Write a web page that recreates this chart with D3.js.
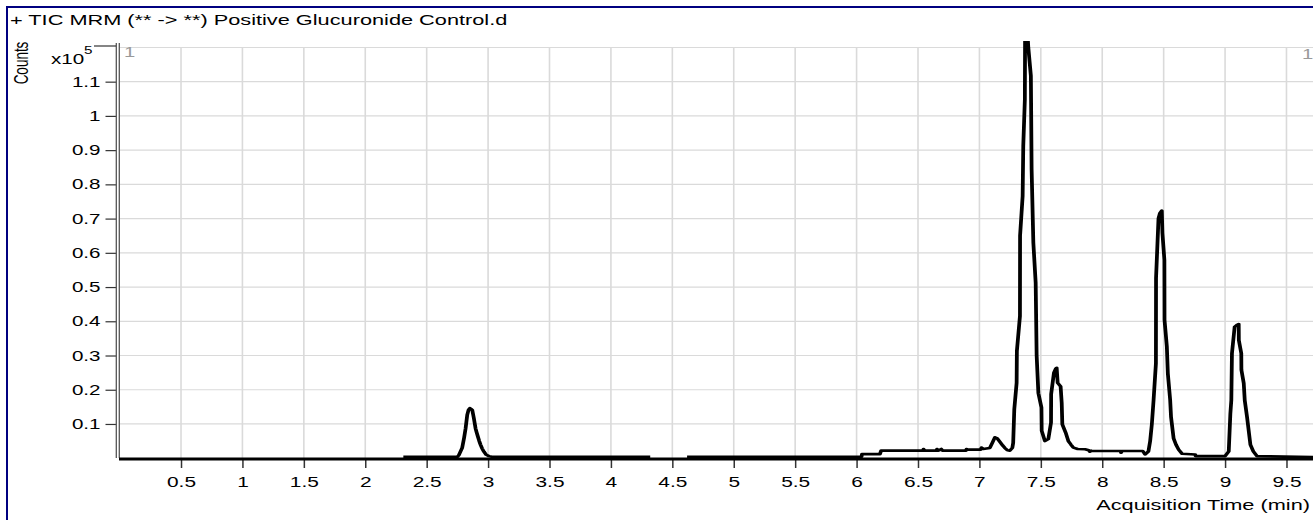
<!DOCTYPE html>
<html>
<head>
<meta charset="utf-8">
<script src="https://cdn.jsdelivr.net/npm/d3@7"></script>
<style>
  body { margin: 0; background: #fff; }
  svg { display: block; font-family: "Liberation Sans", Arial, sans-serif; }
</style>
</head>
<body>
<div class="chart"></div>
<script>
// trace pieces (time in min, counts in x10^5)
const timesA = [2.31, 2.75, 2.762, 2.789, 2.805, 2.817, 2.83, 2.842, 2.852, 2.862, 2.871, 2.884,
  2.898, 2.907, 2.917, 2.928, 2.939, 2.952, 2.966, 2.985, 3.007, 3.03, 4.32];
const countsA = [0.004, 0.004, 0.009, 0.03, 0.06, 0.087, 0.126, 0.142, 0.146, 0.144, 0.141, 0.117,
  0.087, 0.075, 0.063, 0.05, 0.039, 0.028, 0.019, 0.01, 0.006, 0.004, 0.004];

const timesB = [4.62, 5.875, 6.04, 6.044, 6.19, 6.2, 6.54, 6.545, 6.555, 6.65, 6.655, 6.665, 6.69, 6.7,
  6.89, 6.895, 6.905, 7.01, 7.017, 7.03, 7.085, 7.105, 7.126, 7.145, 7.167, 7.19, 7.207, 7.228, 7.248,
  7.268, 7.275, 7.284, 7.303, 7.305, 7.33, 7.331, 7.352, 7.357, 7.37, 7.372, 7.39, 7.398, 7.419, 7.425,
  7.439, 7.458, 7.466, 7.48, 7.505, 7.507, 7.533, 7.561, 7.572, 7.583, 7.584, 7.607, 7.622, 7.629,
  7.637, 7.661, 7.67, 7.675, 7.702, 7.724, 7.745, 7.765, 7.8, 7.86, 7.89, 7.9, 7.91, 7.914, 8.0, 8.15,
  8.153, 8.16, 8.33, 8.349, 8.376, 8.39, 8.404, 8.418, 8.437, 8.438, 8.458, 8.47, 8.485, 8.49, 8.506,
  8.507, 8.526, 8.534, 8.553, 8.56, 8.581, 8.6, 8.622, 8.65, 8.757, 8.76, 9.0, 9.03, 9.043, 9.051,
  9.056, 9.078, 9.1, 9.111, 9.112, 9.132, 9.133, 9.152, 9.16, 9.179, 9.206, 9.23, 9.26, 9.72];
const countsB = [0.004, 0.004, 0.004, 0.012, 0.012, 0.022, 0.022, 0.027, 0.022, 0.022, 0.027, 0.022, 0.027, 0.022,
  0.022, 0.027, 0.025, 0.025, 0.031, 0.027, 0.03, 0.045, 0.061, 0.058, 0.048, 0.037, 0.03, 0.023, 0.022,
  0.03, 0.045, 0.143, 0.22, 0.313, 0.415, 0.65, 0.766, 0.912, 1.048, 1.25, 1.25, 1.2, 1.117, 0.845,
  0.63, 0.513, 0.3, 0.19, 0.148, 0.08, 0.05, 0.056, 0.08, 0.104, 0.187, 0.25, 0.262, 0.264,
  0.22, 0.21, 0.162, 0.099, 0.075, 0.05, 0.04, 0.031, 0.027, 0.026, 0.023, 0.019, 0.022, 0.021, 0.021, 0.021,
  0.016, 0.021, 0.021, 0.011, 0.02, 0.05, 0.1, 0.17, 0.277, 0.526, 0.7, 0.716, 0.723, 0.658, 0.579,
  0.404, 0.326, 0.248, 0.17, 0.121, 0.058, 0.04, 0.025, 0.013, 0.011, 0.006, 0.006, 0.02, 0.13, 0.17,
  0.306, 0.384, 0.39, 0.392, 0.345, 0.306, 0.258, 0.219, 0.17, 0.12, 0.04, 0.02, 0.006, 0.003];

const xTicks = [0.5, 1, 1.5, 2, 2.5, 3, 3.5, 4, 4.5, 5, 5.5, 6, 6.5, 7, 7.5, 8, 8.5, 9, 9.5];
const yTicks = [0.1, 0.2, 0.3, 0.4, 0.5, 0.6, 0.7, 0.8, 0.9, 1, 1.1];

const title = "+ TIC MRM (** -> **) Positive Glucuronide Control.d";

const w = 1313;
const h = 520;
const plotLeft = 119.6;
const plotTop = 46;
const plotBottom = 458.2;
const sx = 1.45; // the picture is stretched sideways

const xScale = d3.scaleLinear().domain([0, 9.73]).range([plotLeft, plotLeft + 9.73 * 122.83]);
const yScale = d3.scaleLinear().domain([0, 1.2042]).range([plotBottom, plotTop]);

const svg = d3.select(".chart").append("svg").attr("width", w).attr("height", h);

svg.append("rect").attr("width", w).attr("height", h).attr("fill", "#fff");

// outer frame
svg.append("rect")
  .attr("x", 7).attr("y", 7).attr("width", w + 20).attr("height", h + 20)
  .attr("fill", "none").attr("stroke", "#000080").attr("stroke-width", 2);

svg.append("text")
  .attr("transform", `translate(10,25) scale(${sx},1)`)
  .attr("font-size", 15)
  .attr("fill", "#000")
  .text(title);

// grid
svg.append("g").selectAll("line").data(xTicks).enter().append("line")
  .attr("x1", (d) => xScale(d)).attr("x2", (d) => xScale(d))
  .attr("y1", plotTop + 1).attr("y2", plotBottom)
  .attr("stroke", "#dadada").attr("stroke-width", 1.6);

svg.append("g").selectAll("line").data(yTicks.concat([yScale.domain()[1]])).enter().append("line")
  .attr("x1", plotLeft).attr("x2", w)
  .attr("y1", (d) => yScale(d) + (d > 1.15 ? 1.5 : 0)).attr("y2", (d) => yScale(d) + (d > 1.15 ? 1.5 : 0))
  .attr("stroke", "#dadada").attr("stroke-width", 1.2);

// corner markers
svg.append("text").attr("transform", `translate(124,57) scale(${sx},1)`)
  .attr("font-size", 14).attr("fill", "#999").text("1");
svg.append("text").attr("transform", `translate(1302,59) scale(${sx},1)`)
  .attr("font-size", 14).attr("fill", "#999").text("1");

// trace: drawn in a sideways-stretched group so vertical strokes come out heavier
svg.append("clipPath").attr("id", "plot-clip")
  .append("rect").attr("x", plotLeft).attr("y", 41).attr("width", w - plotLeft).attr("height", plotBottom - 41 + 3);

const line = d3.line().x((d) => xScale(d[0]) / sx).y((d) => yScale(d[1]));

const traceG = svg.append("g").attr("clip-path", "url(#plot-clip)")
  .append("g").attr("transform", `scale(${sx},1)`);

[[timesA, countsA], [timesB, countsB]].forEach(([t, c]) => {
  traceG.append("path")
    .datum(d3.zip(t, c))
    .attr("d", line)
    .attr("fill", "none")
    .attr("stroke", "#000")
    .attr("stroke-width", 2.6)
    .attr("stroke-linejoin", "round");
});

// y axis
const yAxis = d3.axisLeft(yScale).tickValues(yTicks).tickSize(11).tickFormat(d3.format(""));
const yg = svg.append("g").attr("transform", "translate(116.5,0)").call(yAxis);
yg.select(".domain").remove();
yg.selectAll(".tick line").attr("stroke", "#333").attr("stroke-width", 1.2);
yg.selectAll(".tick text")
  .attr("x", null)
  .attr("transform", `translate(-16,0) scale(${sx},1)`)
  .attr("font-size", 14.2)
  .attr("font-family", "Liberation Sans, Arial, sans-serif")
  .attr("fill", "#000");

// double y axis line
[116.3, 119.3].forEach((xx) => {
  svg.append("line").attr("x1", xx).attr("x2", xx).attr("y1", 43).attr("y2", 458)
    .attr("stroke", "#555").attr("stroke-width", 1.3);
});

// top exponent tick and label
svg.append("line").attr("x1", 94).attr("x2", 116).attr("y1", plotTop).attr("y2", plotTop)
  .attr("stroke", "#333").attr("stroke-width", 1.2);
svg.append("text").attr("transform", `translate(51,64) scale(${sx},1)`)
  .attr("font-size", 14.2).attr("fill", "#000").text("x10");
svg.append("text").attr("transform", `translate(84,54) scale(${sx},1)`)
  .attr("font-size", 10.5).attr("fill", "#000").text("5");

svg.append("text")
  .attr("transform", `translate(28,63) scale(${sx},1) rotate(-90)`)
  .attr("text-anchor", "middle")
  .attr("font-size", 13.5)
  .attr("fill", "#000")
  .text("Counts");

// x axis
const xAxis = d3.axisBottom(xScale).tickValues(xTicks).tickSize(9).tickPadding(8.5).tickFormat(d3.format(""));
const xg = svg.append("g").attr("transform", "translate(0,459)").call(xAxis);
xg.select(".domain").remove();
xg.selectAll(".tick line").attr("stroke", "#333").attr("stroke-width", 1.5);
xg.selectAll(".tick text")
  .attr("transform", `scale(${sx},1)`)
  .attr("font-size", 14.4)
  .attr("font-family", "Liberation Sans, Arial, sans-serif")
  .attr("fill", "#000");

svg.append("line").attr("x1", 119).attr("x2", w).attr("y1", 459).attr("y2", 459)
  .attr("stroke", "#000").attr("stroke-width", 2.8);

svg.append("text")
  .attr("transform", `translate(1310,510) scale(${sx},1)`)
  .attr("text-anchor", "end")
  .attr("font-size", 15)
  .attr("fill", "#000")
  .text("Acquisition Time (min)");
</script>
</body>
</html>
